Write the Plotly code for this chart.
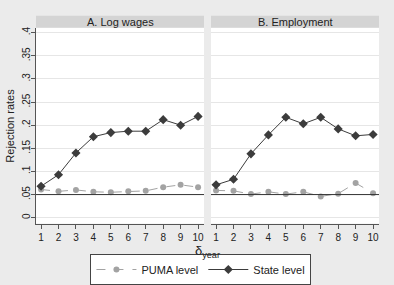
import plotly.graph_objects as go

delta = list(range(1, 11))
wage_puma = [0.061, 0.057, 0.060, 0.056, 0.055, 0.057, 0.058, 0.066, 0.071, 0.066]
wage_state = [0.068, 0.093, 0.140, 0.175, 0.184, 0.187, 0.187, 0.212, 0.200, 0.219]
emp_puma = [0.059, 0.058, 0.051, 0.056, 0.051, 0.056, 0.046, 0.052, 0.075, 0.053]
emp_state = [0.071, 0.083, 0.138, 0.179, 0.217, 0.203, 0.217, 0.192, 0.177, 0.180]
panel_titles = ["A. Log wages", "B. Employment"]
ytick_vals = [0, 0.05, 0.1, 0.15, 0.2, 0.25, 0.3, 0.35, 0.4]
ytick_text = ["0", ".05", ".1", ".15", ".2", ".25", ".3", ".35", ".4"]
ref_level = 0.05

W, H = 394, 285
FONT = "Liberation Sans, Arial, sans-serif"
puma_col = "#a3a3a3"
state_col = "#3c3c3c"

fig = go.Figure()

panels = [(wage_puma, wage_state, "x", "y"), (emp_puma, emp_state, "x2", "y2")]
for i, (p, s, xa, ya) in enumerate(panels):
    fig.add_trace(go.Scatter(x=delta, y=p, mode="lines+markers", name="PUMA level",
                             line=dict(color=puma_col, width=1, dash="dash"),
                             marker=dict(color=puma_col, size=6, symbol="circle"),
                             xaxis=xa, yaxis=ya, showlegend=(i == 0)))
    fig.add_trace(go.Scatter(x=delta, y=s, mode="lines+markers", name="State level",
                             line=dict(color=state_col, width=1),
                             marker=dict(color=state_col, size=7, symbol="diamond"),
                             xaxis=xa, yaxis=ya, showlegend=(i == 0)))

def px_x(v):
    return v / W

def px_y(v):
    return 1 - v / H

dom1 = [px_x(36), px_x(204)]
dom2 = [px_x(211), px_x(379)]
ydom = [px_y(226), px_y(28)]
xr = [0.71, 10.34]
yr = [-0.0128, 0.4107]

common_x = dict(range=xr, tickvals=delta, ticks="outside", ticklen=4, tickcolor="#555",
                showline=True, linecolor="#555", linewidth=1, showgrid=False, zeroline=False,
                tickfont=dict(size=10, color="#222", family=FONT), fixedrange=True)
common_y = dict(range=yr, tickvals=ytick_vals, showgrid=True, gridcolor="#e6e6e6", gridwidth=1,
                zeroline=False, fixedrange=True, domain=ydom)

fig.update_layout(
    width=W, height=H, margin=dict(l=0, r=0, t=0, b=0),
    paper_bgcolor="#ebebeb", plot_bgcolor="white",
    font=dict(family=FONT, size=10, color="#222"),
    xaxis=dict(domain=dom1, anchor="y", **common_x),
    xaxis2=dict(domain=dom2, anchor="y2", **common_x),
    yaxis=dict(anchor="x", ticktext=ytick_text, ticks="outside", ticklen=4, tickcolor="#555",
               showline=True, linecolor="#555", linewidth=1, tickangle=-90,
               ticklabelstandoff=-3,
               tickfont=dict(size=10, color="#222", family=FONT), **common_y),
    yaxis2=dict(anchor="x2", showticklabels=False, showline=False, ticks="", **common_y),
    legend=dict(orientation="h", x=0.51, xanchor="center", y=px_y(257), yanchor="top",
                bgcolor="white", bordercolor="#444", borderwidth=1,
                font=dict(size=11, family=FONT, color="#222"),
                itemwidth=40, tracegroupgap=0),
    showlegend=True,
)

shapes = []
annotations = []
for dom, title, xref in [(dom1, panel_titles[0], "x"), (dom2, panel_titles[1], "x2")]:
    shapes.append(dict(type="rect", xref="paper", yref="paper", x0=dom[0], x1=dom[1],
                       y0=px_y(28), y1=px_y(16), fillcolor="#d4d4d4", line=dict(width=0),
                       layer="below"))
    annotations.append(dict(text=title, xref="paper", yref="paper", x=(dom[0] + dom[1]) / 2,
                            y=px_y(22), xanchor="center", yanchor="middle", showarrow=False,
                            font=dict(size=11, family=FONT, color="#222")))
    shapes.append(dict(type="line", xref=xref + " domain", yref="y" if xref == "x" else "y2",
                       x0=0, x1=1, y0=ref_level, y1=ref_level,
                       line=dict(color="#333", width=1)))

annotations.append(dict(text="Rejection rates", xref="paper", yref="paper", x=px_x(10),
                        y=(ydom[0] + ydom[1]) / 2, textangle=-90, showarrow=False,
                        xanchor="center", yanchor="middle",
                        font=dict(size=11, family=FONT, color="#222")))
annotations.append(dict(text="δ<sub>year</sub>", xref="paper", yref="paper", x=px_x(207),
                        y=px_y(254), showarrow=False, xanchor="center", yanchor="middle",
                        font=dict(size=13, family=FONT, color="#222")))

fig.update_layout(shapes=shapes, annotations=annotations)
fig.write_html("out.html")
